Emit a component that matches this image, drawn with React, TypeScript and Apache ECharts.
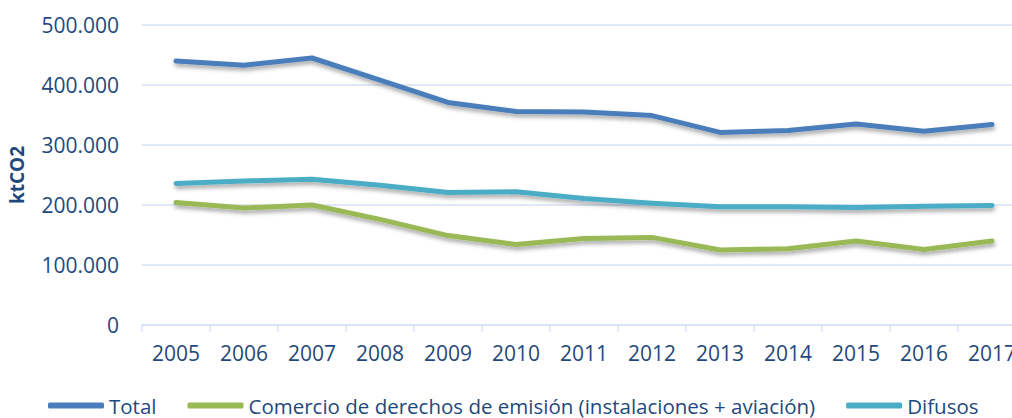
import React, { useEffect, useRef } from "react";
import * as echarts from "echarts";

const years = ["2005","2006","2007","2008","2009","2010","2011","2012","2013","2014","2015","2016","2017"];
const total = [440000, 433000, 445000, 408000, 371000, 356000, 355000, 349000, 321000, 324000, 335000, 323000, 334000];
const comercio = [204000, 195000, 200000, 176000, 149000, 134000, 144000, 146000, 125000, 127000, 140000, 126000, 140000];
const difusos = [236000, 240000, 243000, 233000, 221000, 222000, 211000, 203000, 197000, 197000, 196000, 198000, 199000];
const seriesNames = ["Total", "Comercio de derechos de emisión (instalaciones + aviación)", "Difusos"];
const colors = ["#4A7EBB", "#98B954", "#4BACC6"];

const fmt = (v: number) => String(v).replace(/\B(?=(\d{3})+(?!\d))/g, ".");

export default function App() {
  const ref = useRef<HTMLDivElement>(null);
  useEffect(() => {
    document.body.style.margin = "0";
    const chart = echarts.init(ref.current!, undefined, { renderer: "svg" });
    const textColor = "#1F497D";
    const font = "Open Sans";
    const lineColor = "#D9E2F3";
    const mk = (name: string, data: number[], color: string) => ({
      name,
      type: "line",
      data,
      symbol: "none",
      lineStyle: {
        width: 5,
        color,
        cap: "round",
        join: "round",
        shadowColor: "rgba(0,0,0,0.35)",
        shadowBlur: 4,
        shadowOffsetY: 3,
        shadowOffsetX: 1,
      },
      itemStyle: { color },
    });
    chart.setOption({
      animation: false,
      grid: { left: 142, right: 6, top: 25, bottom: 93, containLabel: false, outerBoundsMode: "none" },
      legend: {
        top: 395,
        left: 48,
        padding: 0,
        itemWidth: 56,
        itemHeight: 6,
        itemGap: 31,
        icon: "roundRect",
        textStyle: { color: textColor, fontFamily: font, fontSize: 20.5, lineHeight: 20 },
        data: seriesNames,
      },
      xAxis: {
        type: "category",
        data: years,
        boundaryGap: true,
        axisLine: { lineStyle: { color: lineColor, width: 1.5 } },
        axisTick: { show: true, length: 7, lineStyle: { color: lineColor, width: 1.5 } },
        axisLabel: { color: textColor, fontFamily: font, fontSize: 21, margin: 17 },
      },
      yAxis: {
        type: "value",
        min: 0,
        max: 500000,
        interval: 100000,
        name: "ktCO2",
        nameLocation: "middle",
        nameRotate: 90,
        nameGap: 116,
        nameTextStyle: { color: textColor, fontFamily: font, fontSize: 19, fontWeight: "bold" },
        axisLine: { show: false },
        axisTick: { show: false },
        splitLine: { lineStyle: { color: lineColor, width: 1.5 } },
        axisLabel: { color: textColor, fontFamily: font, fontSize: 21, margin: 23, formatter: (v: number) => fmt(v) },
      },
      series: [
        mk(seriesNames[0], total, colors[0]),
        mk(seriesNames[1], comercio, colors[1]),
        mk(seriesNames[2], difusos, colors[2]),
      ],
    });
    return () => chart.dispose();
  }, []);
  return (
    <div style={{ width: 1012, height: 418, position: "absolute", left: 0, top: 0, overflow: "hidden" }}>
      <div ref={ref} style={{ width: 1032, height: 418 }} />
    </div>
  );
}
